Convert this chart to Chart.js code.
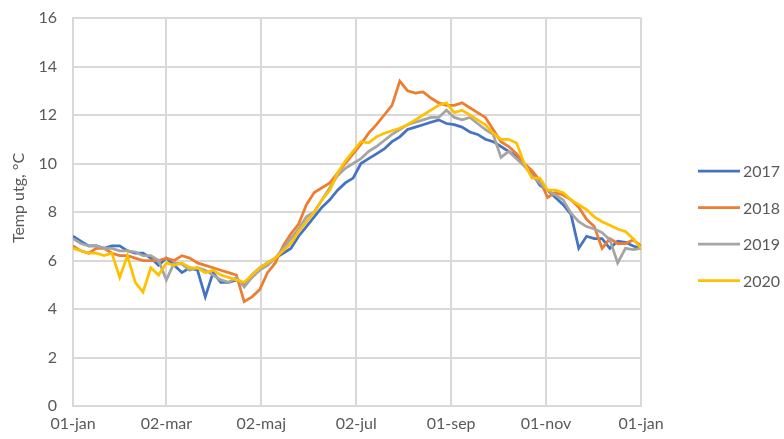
<!DOCTYPE html>
<html>
<head>
<meta charset="utf-8">
<script src="https://cdn.jsdelivr.net/npm/chart.js@4"></script>
<style>
  body { margin: 0; background: #fff; }
  #wrap { width: 784px; height: 439px; }
</style>
</head>
<body>
<div id="wrap"><canvas id="tempChart" width="784" height="439"></canvas></div>
<script>
// day of year (0 = 01-jan), sampled every 5 days
const days = [0,5,10,15,20,25,30,35,40,45,50,55,60,65,70,75,80,85,90,95,100,105,110,115,120,125,130,135,140,145,150,155,160,165,170,175,180,185,190,195,200,205,210,215,220,225,230,235,240,245,250,255,260,265,270,275,280,285,290,295,300,305,310,315,320,325,330,335,340,345,350,355,360,365];

const tickDays = [0, 60, 121, 182, 243, 304, 365];
const tickLabels = ['01-jan', '02-mar', '02-maj', '02-jul', '01-sep', '01-nov', '01-jan'];

const years = ['2017', '2018', '2019', '2020'];

const temp2017 = [7.0,6.8,6.6,6.6,6.5,6.6,6.6,6.4,6.3,6.3,6.1,5.8,6.1,5.8,5.5,5.7,5.6,4.5,5.5,5.1,5.1,5.2,5.0,5.4,5.7,5.9,6.1,6.3,6.5,7.0,7.4,7.8,8.2,8.5,8.9,9.2,9.4,10.0,10.2,10.4,10.6,10.9,11.1,11.4,11.5,11.6,11.7,11.8,11.65,11.6,11.5,11.3,11.2,11.0,10.9,10.7,10.5,10.3,9.9,9.6,9.1,8.9,8.6,8.3,7.9,6.5,7.0,6.9,6.9,6.5,6.8,6.75,6.6,6.5];
const temp2018 = [6.6,6.4,6.3,6.5,6.5,6.3,6.2,6.2,6.1,6.0,6.0,6.0,6.1,6.0,6.2,6.1,5.9,5.8,5.7,5.6,5.5,5.4,4.3,4.5,4.8,5.5,5.9,6.6,7.1,7.5,8.3,8.8,9.0,9.2,9.6,10.0,10.4,10.8,11.25,11.6,12.0,12.4,13.4,13.0,12.9,12.95,12.7,12.5,12.4,12.4,12.5,12.3,12.1,11.9,11.4,10.9,10.7,10.4,10.0,9.7,9.3,8.6,8.8,8.7,8.5,8.2,7.7,7.4,6.5,6.9,6.7,6.7,6.85,6.6];
const temp2019 = [6.9,6.7,6.6,6.6,6.5,6.5,6.4,6.4,6.35,6.2,6.2,6.0,5.2,5.9,5.85,5.6,5.7,5.6,5.4,5.2,5.1,5.3,4.9,5.3,5.6,5.8,6.1,6.5,6.9,7.3,7.8,8.0,8.5,9.0,9.5,9.8,10.0,10.2,10.5,10.7,10.95,11.2,11.4,11.6,11.7,11.8,11.9,11.9,12.2,11.9,11.8,11.9,11.65,11.4,11.2,10.25,10.5,10.2,9.9,9.5,9.2,8.9,8.7,8.5,7.95,7.6,7.4,7.3,7.15,6.85,5.9,6.5,6.45,6.5];
const temp2020 = [6.5,6.4,6.3,6.3,6.2,6.3,5.3,6.2,5.1,4.7,5.7,5.4,5.9,5.8,5.9,5.7,5.7,5.5,5.6,5.4,5.3,5.2,5.1,5.4,5.7,5.9,6.1,6.4,6.7,7.2,7.6,8.0,8.5,8.9,9.6,10.1,10.5,10.9,10.85,11.1,11.25,11.35,11.45,11.6,11.8,12.0,12.2,12.4,12.5,12.1,12.2,12.0,11.8,11.6,11.25,11.0,11.0,10.85,10.0,9.4,9.4,8.9,8.9,8.8,8.5,8.3,8.1,7.8,7.6,7.45,7.3,7.2,6.9,6.5];

const colors = ['#4472C4', '#ED7D31', '#A5A5A5', '#FFC000'];
const series = [temp2017, temp2018, temp2019, temp2020];

const textColor = '#595959';
const gridColor = '#d9d9d9';
const fontFamily = 'Lato, "Liberation Sans", sans-serif';

const datasets = series.map((vals, i) => ({
    label: years[i],
    data: vals.map((v, k) => ({ x: days[k], y: v })),
    borderColor: colors[i],
    backgroundColor: colors[i],
    borderWidth: 2.75,
    pointRadius: 0,
    tension: 0,
    fill: false,
    order: series.length - i   // later years drawn on top, like Excel
}));

// legend and y title drawn by hand so they sit where the original has them
const extras = {
    id: 'extras',
    afterDraw(chart) {
        const ctx = chart.ctx;
        ctx.save();
        ctx.font = '16px ' + fontFamily;
        ctx.fillStyle = textColor;
        ctx.textBaseline = 'middle';
        ctx.textAlign = 'left';
        years.forEach((y, i) => {
            const ly = 171 + i * 36.5;
            ctx.strokeStyle = colors[i];
            ctx.lineWidth = 2.75;
            ctx.beginPath();
            ctx.moveTo(698, ly);
            ctx.lineTo(740, ly);
            ctx.stroke();
            ctx.fillText(y, 743, ly + 1);
        });
        // y axis title
        ctx.translate(19, 198);
        ctx.rotate(-Math.PI / 2);
        ctx.textAlign = 'center';
        ctx.fillText('Temp utg, °C', 0, 0);
        ctx.restore();
    }
};

new Chart(document.getElementById('tempChart'), {
    type: 'line',
    data: { datasets },
    options: {
        responsive: false,
        animation: false,
        layout: { padding: { left: 0, right: 143, top: 18, bottom: 0 } },
        plugins: { legend: { display: false }, tooltip: { enabled: false } },
        scales: {
            x: {
                type: 'linear',
                min: 0,
                max: 365,
                afterBuildTicks: (scale) => { scale.ticks = tickDays.map(v => ({ value: v })); },
                afterFit: (scale) => {
                    scale.height = 33;
                    scale.paddingLeft = 0;
                    scale.paddingRight = 0;
                },
                ticks: {
                    color: textColor,
                    font: { family: fontFamily, size: 16 },
                    padding: 8,
                    maxRotation: 0,
                    autoSkip: false,
                    callback: (v) => tickLabels[tickDays.indexOf(v)]
                },
                grid: { color: gridColor, lineWidth: 2, drawTicks: false },
                border: { color: gridColor, width: 2 }
            },
            y: {
                min: 0,
                max: 16,
                afterFit: (scale) => {
                    scale.width = 73;
                    scale.paddingTop = 0;
                    scale.paddingBottom = 0;
                },
                ticks: {
                    stepSize: 2,
                    color: textColor,
                    font: { family: fontFamily, size: 16 },
                    padding: 16
                },
                grid: { color: gridColor, lineWidth: 2, drawTicks: false },
                border: { color: gridColor, width: 2 }
            }
        }
    },
    plugins: [extras]
});
</script>
</body>
</html>
